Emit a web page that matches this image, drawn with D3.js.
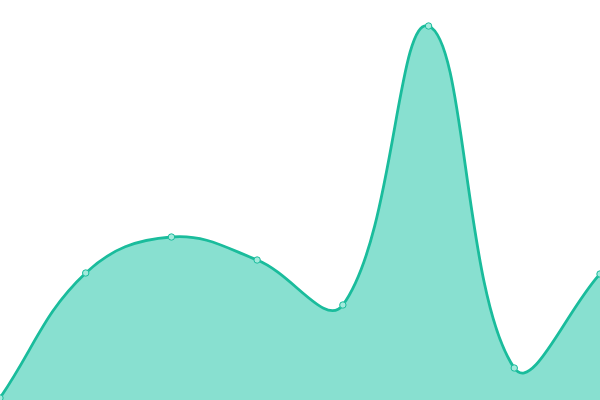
<!DOCTYPE html>
<html><head><meta charset="utf-8">
<script src="https://cdn.jsdelivr.net/npm/d3@7"></script>
<style>html,body{margin:0;padding:0;background:#fff;overflow:hidden}</style>
</head><body>
<svg id="c" width="600" height="400"></svg>
<script>
const categories = [0, 1, 2, 3, 4, 5, 6, 7];
const values = [2, 127, 163, 140, 95, 374, 32, 126];

const W = 600, H = 400, TENSION = 0.4;
const svg = d3.select("#c");
const x = d3.scaleLinear().domain([0, categories.length - 1]).range([0, W]);
const y = d3.scaleLinear().domain([0, 400]).range([H, 0]);
const pts = categories.map((c, i) => ({x: x(c), y: y(values[i])}));

// distance-weighted spline control points
function controls(p, t) {
  return p.map((cur, i) => {
    const prev = p[i - 1] || cur, next = p[i + 1] || cur;
    const d01 = Math.hypot(cur.x - prev.x, cur.y - prev.y);
    const d12 = Math.hypot(next.x - cur.x, next.y - cur.y);
    let s01 = d01 / (d01 + d12), s12 = d12 / (d01 + d12);
    s01 = isNaN(s01) ? 0 : s01; s12 = isNaN(s12) ? 0 : s12;
    const fa = t * s01, fb = t * s12;
    const cap = (v, lo, hi) => Math.max(lo, Math.min(hi, v));
    return {
      px: cap(cur.x - fa * (next.x - prev.x), 0, W), py: cap(cur.y - fa * (next.y - prev.y), 0, H),
      nx: cap(cur.x + fb * (next.x - prev.x), 0, W), ny: cap(cur.y + fb * (next.y - prev.y), 0, H)
    };
  });
}
function linePath(p, ctx) {
  const c = controls(p, TENSION);
  ctx.moveTo(p[0].x, p[0].y);
  for (let i = 1; i < p.length; i++) {
    ctx.bezierCurveTo(c[i - 1].nx, c[i - 1].ny, c[i].px, c[i].py, p[i].x, p[i].y);
  }
  return ctx;
}
const ap = linePath(pts, d3.path());
ap.lineTo(pts[pts.length - 1].x, y(0));
ap.lineTo(pts[0].x, y(0));
ap.closePath();
svg.append("path").attr("d", ap.toString()).attr("fill", "#88e0d0");
svg.append("path").attr("d", linePath(pts, d3.path()).toString())
  .attr("fill", "none").attr("stroke", "#1abc9c").attr("stroke-width", 2.8);
svg.selectAll("circle").data(pts).join("circle")
  .attr("cx", d => d.x).attr("cy", d => d.y).attr("r", 3.2)
  .attr("fill", "#a3eadc").attr("stroke", "#1abc9c").attr("stroke-width", 1);
</script>
</body></html>
